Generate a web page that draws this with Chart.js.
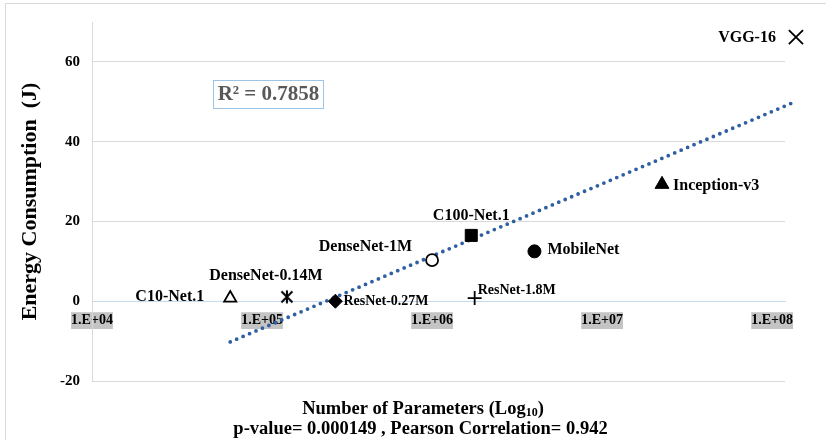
<!DOCTYPE html>
<html>
<head>
<meta charset="utf-8">
<script src="https://cdn.jsdelivr.net/npm/chart.js@4.4.1/dist/chart.umd.min.js"></script>
<style>
  html, body { margin: 0; padding: 0; background: #fff; }
  #wrap { position: relative; width: 826px; height: 440px; }
</style>
</head>
<body>
<div id="wrap"><canvas id="chart" width="826" height="440"></canvas></div>
<script>
// models, parameter counts, energy (J)
const models = ['C10-Net.1', 'DenseNet-0.14M', 'ResNet-0.27M', 'DenseNet-1M', 'C100-Net.1',
  'ResNet-1.8M', 'MobileNet', 'Inception-v3', 'VGG-16'];
const params = [6.5e4, 1.4e5, 2.7e5, 1.0e6, 1.7e6, 1.78e6, 4.0e6, 2.25e7, 1.38e8];
const energy = [0.8, 1.1, 0.0, 10.3, 16.5, 0.8, 12.5, 29.3, 66.2];

// log trendline endpoints
const trendX = [6.5e4, 1.38e8];
const trendY = [-10.2, 50.1];

const xTickValues = [1e4, 1e5, 1e6, 1e7, 1e8];
const xTickLabels = ['1.E+04', '1.E+05', '1.E+06', '1.E+07', '1.E+08'];

const SERIF = '"Liberation Serif", "Times New Roman", serif';

// six-arm asterisk marker
const asterisk = document.createElement('canvas');
asterisk.width = 16;
asterisk.height = 16;
(() => {
  const c = asterisk.getContext('2d');
  c.strokeStyle = '#000';
  c.lineWidth = 2;
  c.beginPath();
  c.moveTo(8, 1.5); c.lineTo(8, 14.5);
  c.moveTo(2.5, 2.5); c.lineTo(13.5, 13.5);
  c.moveTo(13.5, 2.5); c.lineTo(2.5, 13.5);
  c.stroke();
})();

const pointStyles = ['triangle', asterisk, 'rectRot', 'circle', 'rect', 'cross', 'circle', 'triangle', 'crossRot'];
const pointRadius = [7, 8, 7, 6, 8.5, 7, 6.5, 8, 10];
const pointFill = ['#fff', '#000', '#000', '#fff', '#000', '#000', '#000', '#000', '#000'];
const pointBorder = [1.8, 1, 1, 1.8, 1, 1.8, 1, 1, 1.8];

// label placement relative to the marker: dx, dy, align, size
const labelPos = [
  [-26, -1, 'right', 16],
  [-21, -21, 'center', 16],
  [8, 0, 'left', 14],
  [-20, -13, 'right', 16],
  [0, -20, 'center', 16],
  [3, -8, 'left', 14],
  [13, -2, 'left', 16],
  [11, 2, 'left', 16],
  [-20, 1, 'right', 16],
];

const decorPlugin = {
  id: 'decor',
  beforeDraw(chart) {
    const ctx = chart.ctx;
    ctx.save();
    ctx.fillStyle = '#fff';
    ctx.fillRect(0, 0, chart.width, chart.height);
    ctx.strokeStyle = '#d9d9d9';
    ctx.lineWidth = 1;
    ctx.strokeRect(5.5, 3.5, 1000, 1000);
    ctx.restore();
  },
  afterDraw(chart) {
    const ctx = chart.ctx;
    const meta = chart.getDatasetMeta(0);
    ctx.save();
    ctx.fillStyle = '#000';
    ctx.textBaseline = 'middle';
    meta.data.forEach((pt, i) => {
      const [dx, dy, align, size] = labelPos[i];
      ctx.font = 'bold ' + size + 'px ' + SERIF;
      ctx.textAlign = align;
      ctx.fillText(models[i], pt.x + dx, pt.y + dy);
    });

    // R² box
    ctx.strokeStyle = '#9dc3e6';
    ctx.lineWidth = 1;
    ctx.strokeRect(213.5, 80.5, 110, 28);
    ctx.fillStyle = '#595959';
    ctx.font = 'bold 21px ' + SERIF;
    ctx.textAlign = 'center';
    ctx.fillText('R² = 0.7858', 268.5, 95);

    // x axis title, two lines, with subscript
    ctx.fillStyle = '#000';
    ctx.textBaseline = 'alphabetic';
    ctx.textAlign = 'left';
    const big = 'bold 18.5px ' + SERIF;
    const small = 'bold 12px ' + SERIF;
    const a = 'Number of Parameters (Log', b = '10', c = ')';
    ctx.font = big;
    const wa = ctx.measureText(a).width, wc = ctx.measureText(c).width;
    ctx.font = small;
    const wb = ctx.measureText(b).width;
    let x = 423 - (wa + wb + wc) / 2;
    ctx.font = big;
    ctx.fillText(a, x, 414);
    ctx.font = small;
    ctx.fillText(b, x + wa, 416);
    ctx.font = big;
    ctx.fillText(c, x + wa + wb, 414);
    ctx.textAlign = 'center';
    ctx.fillText('p-value= 0.000149 , Pearson Correlation= 0.942', 420.5, 434);
    ctx.restore();
  },
};

new Chart(document.getElementById('chart'), {
  type: 'scatter',
  data: {
    datasets: [
      {
        label: 'Models',
        data: params.map((p, i) => ({ x: p, y: energy[i] })),
        pointStyle: pointStyles,
        pointRadius: pointRadius,
        pointHoverRadius: pointRadius,
        backgroundColor: pointFill,
        borderColor: '#000',
        borderWidth: pointBorder,
        clip: false,
      },
      {
        type: 'line',
        label: 'Trend',
        data: trendX.map((t, i) => ({ x: t, y: trendY[i] })),
        borderColor: '#2f5fa3',
        borderWidth: 3.8,
        borderDash: [0, 7],
        borderCapStyle: 'round',
        pointRadius: 0,
        fill: false,
        clip: false,
      },
    ],
  },
  options: {
    responsive: false,
    animation: false,
    layout: { padding: { left: 0, top: 22, right: 41, bottom: 59 } },
    plugins: { legend: { display: false }, tooltip: { enabled: false } },
    scales: {
      x: {
        type: 'logarithmic',
        position: { y: 0 },
        min: 1e4,
        max: 1.19e8,
        afterBuildTicks: (scale) => {
          scale.ticks = xTickValues.map((v) => ({ value: v }));
        },
        grid: { display: false },
        border: { color: '#c5d9f1', width: 1 },
        ticks: {
          callback: (v) => xTickLabels[xTickValues.indexOf(v)],
          autoSkip: false,
          maxRotation: 0,
          padding: 3,
          color: '#000',
          font: { family: SERIF, size: 14, weight: 'bold' },
          showLabelBackdrop: true,
          backdropColor: '#c4c4c4',
          backdropPadding: { x: 0, y: 0 },
        },
      },
      y: {
        min: -20,
        max: 70,
        afterFit: (scale) => { scale.width = 92; },
        grid: {
          color: (c) => (c.tick && c.tick.value === 0 ? 'rgba(0,0,0,0)' : '#d9d9d9'),
          drawTicks: false,
        },
        border: { color: '#d9d9d9' },
        ticks: {
          stepSize: 20,
          includeBounds: false,
          padding: 12,
          color: '#000',
          font: { family: SERIF, size: 15, weight: 'bold' },
        },
        title: {
          display: true,
          text: 'Energy Consumption  (J)',
          color: '#000',
          font: { family: SERIF, size: 22, weight: 'bold' },
          padding: { top: 17, bottom: 0 },
        },
      },
    },
  },
  plugins: [decorPlugin],
});
</script>
</body>
</html>
